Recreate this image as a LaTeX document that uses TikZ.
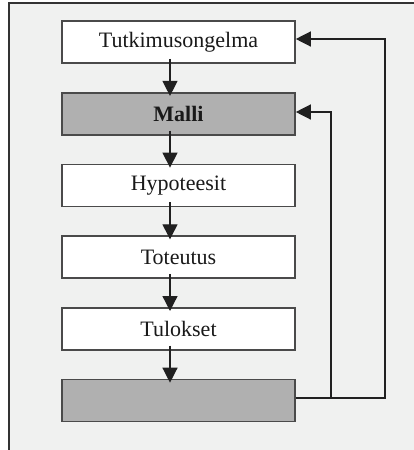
\documentclass[tikz,border=0pt]{standalone}
\usepackage{fontspec}
\setmainfont{Liberation Serif}
\usetikzlibrary{arrows.meta}
\definecolor{panel}{HTML}{F0F1F0}
\definecolor{boxline}{HTML}{4A4A4A}
\definecolor{boxgray}{HTML}{B0B0B0}
\definecolor{wire}{HTML}{202020}
\tikzset{
  stepbox/.style={draw=boxline, line width=1.6pt, fill=white, minimum width=233pt,
    minimum height=42pt, inner sep=0pt, font=\fontsize{22}{24}\selectfont, text=black!90},
  graybox/.style={stepbox, fill=boxgray},
  arr/.style={draw=wire, line width=1.3pt, -{Triangle[width=15pt,length=15pt]}},
  wireline/.style={draw=wire, line width=1.3pt}
}
\begin{document}
\begin{tikzpicture}[x=1pt,y=-1pt]
  \useasboundingbox (0,0) rectangle (414,450);
  % panel
  \fill[white] (0,0) rectangle (414,450);
  \begin{scope}
    \clip (0,0) rectangle (414,450);
    \draw[draw=black!80, line width=2pt, fill=panel] (8.5,2.5) rectangle (430,470);
  \end{scope}
  % process steps
  \node[stepbox] (t) at (178.5,42) {Tutkimusongelma};
  \node[graybox] (m) at (178.5,113.7) {\textbf{Malli}};
  \node[stepbox] (h) at (178.5,185.4) {Hypoteesit};
  \node[stepbox] (o) at (178.5,257.1) {Toteutus};
  \node[stepbox] (u) at (178.5,328.8) {Tulokset};
  \node[graybox] (f) at (178.5,400.5) {};
  % forward arrows
  \foreach \a/\b in {t/m, m/h, h/o, o/u, u/f}
    \draw[arr, shorten >=-4pt] ([xshift=-8.5pt,yshift=5pt]\a.south) -- ([xshift=-8.5pt]\b.north);
  % feedback loops
  \coordinate (outerB) at (385,398);
  \coordinate (outerT) at (385,39);
  \coordinate (innerB) at (331,398);
  \coordinate (innerT) at (331,112);
  \draw[arr] (f.east |- outerB) -- (outerB) -- (outerT) -- (t.east |- outerT);
  \draw[arr] (innerB) -- (innerT) -- (m.east |- innerT);
\end{tikzpicture}
\end{document}
